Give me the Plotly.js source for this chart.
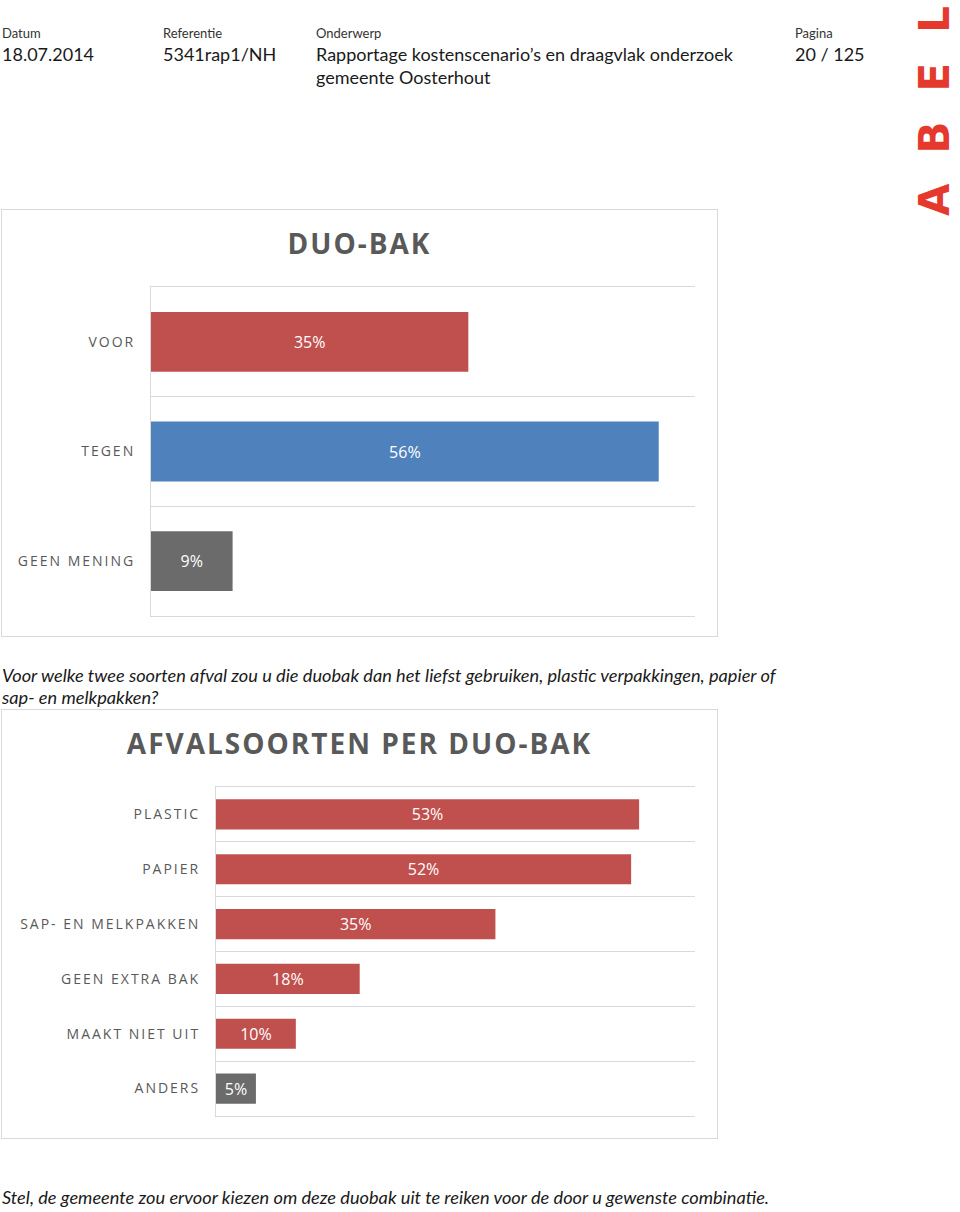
<!DOCTYPE html>
<html><head><meta charset="utf-8">
<script src="https://cdn.plot.ly/plotly-3.0.1.min.js"></script>
<style>
body{margin:0;background:#fff;width:960px;height:1212px;position:relative;overflow:hidden;font-family:Lato,"Open Sans",sans-serif;color:#1a1a1a}
.h{position:absolute;white-space:nowrap}
.lbl{font-size:13px;line-height:16px;color:#333}
.val{font-size:18px;line-height:23px;color:#1a1a1a}
.q{position:absolute;left:2px;font-style:italic;font-size:18.2px;line-height:22px;color:#1a1a1a;white-space:nowrap}
.chart{position:absolute;left:1px;width:717px;border:1px solid #D9D9D9;box-sizing:border-box}
.chart .ytick text{letter-spacing:2px}
.chart .gtitle{letter-spacing:2px}
#logo{position:absolute;left:0;top:0}
</style>
</head><body>
<div class="h lbl" style="left:2px;top:25px">Datum</div>
<div class="h val" style="left:2px;top:43px">18.07.2014</div>
<div class="h lbl" style="left:163px;top:25px">Referentie</div>
<div class="h val" style="left:163px;top:43px">5341rap1/NH</div>
<div class="h lbl" style="left:316px;top:25px">Onderwerp</div>
<div class="h val" style="left:316px;top:43px">Rapportage kostenscenario’s en draagvlak onderzoek<br>gemeente Oosterhout</div>
<div class="h lbl" style="left:795px;top:25px">Pagina</div>
<div class="h val" style="left:795px;top:43px">20 / 125</div>
<svg id="logo" width="960" height="230"><text transform="translate(949,216) rotate(-90)" textLength="210" lengthAdjust="spacing" font-family="DejaVu Sans" font-weight="bold" font-size="42" fill="#E5392E">ABEL</text></svg>

<div id="c1" class="chart" style="top:209px;height:428px"></div>
<div class="q" style="top:664px">Voor welke twee soorten afval zou u die duobak dan het liefst gebruiken, plastic verpakkingen, papier of<br>sap- en melkpakken?</div>
<div id="c2" class="chart" style="top:709px;height:430px"></div>
<div class="q" style="top:1186px">Stel, de gemeente zou ervoor kiezen om deze duobak uit te reiken voor de door u gewenste combinatie.</div>

<script>
// Chart 1 data
const cats1 = ['VOOR', 'TEGEN', 'GEEN MENING'];
const vals1 = [0.35, 0.56, 0.09];
const title1 = 'DUO-BAK';
// Chart 2 data
const cats2 = ['PLASTIC', 'PAPIER', 'SAP- EN MELKPAKKEN', 'GEEN EXTRA BAK', 'MAAKT NIET UIT', 'ANDERS'];
const vals2 = [0.53, 0.52, 0.35, 0.18, 0.10, 0.05];
const title2 = 'AFVALSOORTEN PER DUO-BAK';

// styles
const RED = '#C0504D', BLUE = '#4F81BD', GREY = '#6B6B6B';
const colors1 = [RED, BLUE, GREY];
const colors2 = [RED, RED, RED, RED, RED, GREY];
const GRID = '#D9D9D9', TXT = '#595959';

function makeChart(id, cats, vals, colors, title, w, h, m, gap) {
  const trace = {
    type: 'bar', orientation: 'h', y: cats, x: vals,
    marker: {color: colors},
    texttemplate: '%{x:.0%}', textposition: 'inside', insidetextanchor: 'middle',
    constraintext: 'none', textangle: 0,
    textfont: {family: 'Open Sans', size: 16, color: '#FFFFFF'},
    hoverinfo: 'none'
  };
  const layout = {
    width: w, height: h, margin: m,
    paper_bgcolor: '#fff', plot_bgcolor: '#fff',
    showlegend: false, bargap: gap,
    title: {text: '<b>' + title + '</b>', x: 0.5, xanchor: 'center', xref: 'container',
            y: 1 - 34 / h, yref: 'container', yanchor: 'middle',
            font: {family: 'Open Sans', size: 28, color: TXT}},
    xaxis: {range: [0, 0.6], showgrid: false, zeroline: false, showticklabels: false,
            showline: true, mirror: true, linecolor: GRID, linewidth: 1, ticks: ''},
    yaxis: {type: 'category', autorange: 'reversed', tickson: 'boundaries',
            showgrid: true, gridcolor: GRID, gridwidth: 1, ticks: '',
            showline: true, linecolor: GRID, linewidth: 1, zeroline: false,
            ticklabelstandoff: 12,
            tickfont: {family: 'Open Sans', size: 14, color: TXT}}
  };
  Plotly.newPlot(id, [trace], layout, {displayModeBar: false, staticPlot: true});
}

makeChart('c1', cats1, vals1, colors1, title1, 715, 426, {l: 149, r: 22, t: 77, b: 20}, 0.455);
makeChart('c2', cats2, vals2, colors2, title2, 715, 428, {l: 214, r: 22, t: 77, b: 22}, 0.45);
</script>
</body></html>
